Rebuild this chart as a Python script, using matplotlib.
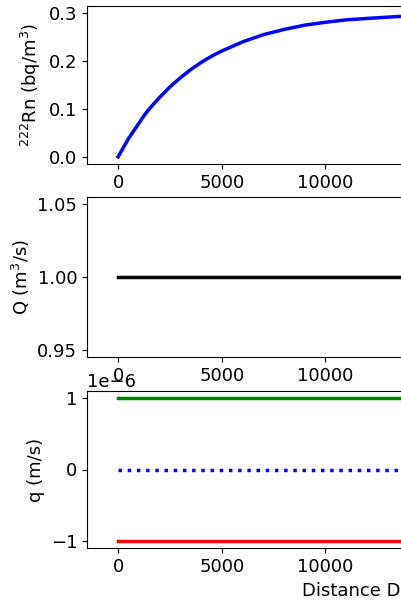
import matplotlib
matplotlib.use("Agg")
import matplotlib.pyplot as plt

# distance downstream (m) and 222Rn
dist_rn = [0, 250, 500, 750, 1000, 1250, 1500, 2000, 2500, 3000, 3500, 4000, 4500, 5000,
           6000, 7000, 8000, 9000, 10000, 11000, 12000, 13500, 15000, 17500, 20000, 25000, 30000]
rn = [0.000, 0.019, 0.038, 0.054, 0.070, 0.086, 0.100, 0.124, 0.146, 0.165, 0.182, 0.197, 0.210, 0.221,
      0.240, 0.255, 0.266, 0.275, 0.281, 0.286, 0.289, 0.293, 0.295, 0.298, 0.299, 0.300, 0.300]

# discharge and groundwater fluxes (constant along the reach)
dist_flat = [0, 30000]
Q = [1.0, 1.0]
q_in = [1e-6, 1e-6]
q_zero = [0.0, 0.0]
q_out = [-1e-6, -1e-6]

xticks = [0, 5000, 10000]

plt.rcParams['font.size'] = 13

W, H = 401, 600
fig = plt.figure(figsize=(W / 100, H / 100), dpi=100)

# axes span wider than the picture, the right side is cut off like in the original
left = 87 / W
width = (771 - 87) / W
ax1 = fig.add_axes([left, 1 - 164 / H, width, 158 / H])
ax2 = fig.add_axes([left, 1 - 357 / H, width, 160 / H])
ax3 = fig.add_axes([left, 1 - 548 / H, width, 157 / H])

ax1.plot(dist_rn, rn, color='b', linewidth=2.5)
ax1.set_ylabel(r'$^{222}$Rn (bq/m$^3$)')

ax2.plot(dist_flat, Q, color='k', linewidth=2.5)
ax2.set_ylabel(r'Q (m$^3$/s)')

ax3.plot(dist_flat, q_in, color='g', linewidth=2.5)
ax3.plot(dist_flat, q_zero, color='b', linestyle=':', linewidth=2.5)
ax3.plot(dist_flat, q_out, color='r', linewidth=2.5)
ax3.set_ylabel('q (m/s)')

for ax in (ax1, ax2, ax3):
    ax.set_xticks(xticks)

ax3.set_xlabel('Distance Downstream (m)')
ax3.xaxis.label.set_horizontalalignment('left')
ax3.xaxis.set_label_coords((302 - 87) / (771 - 87), -0.215)

fig.savefig('out.png', dpi=100)
